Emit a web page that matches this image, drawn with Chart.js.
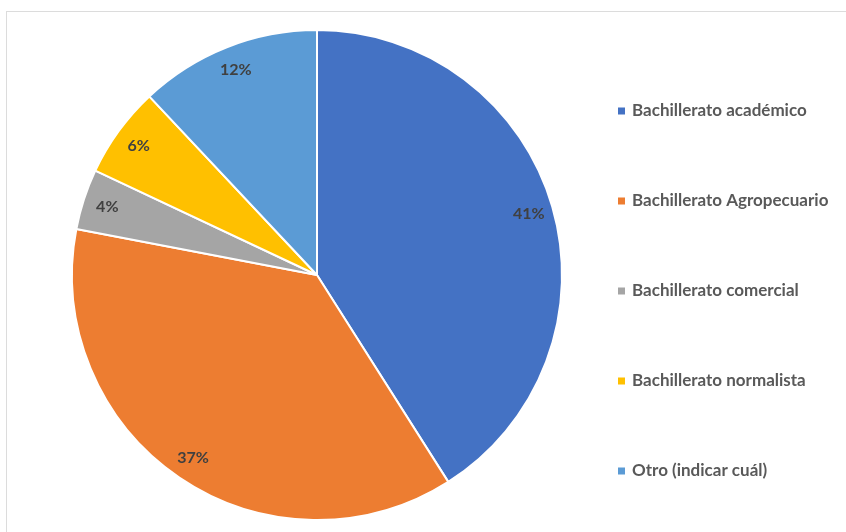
<!DOCTYPE html>
<html>
<head>
<meta charset="utf-8">
<script src="https://cdn.jsdelivr.net/npm/chart.js@4/dist/chart.umd.min.js"></script>
<style>
  html, body { margin: 0; padding: 0; background: #ffffff; }
  #frame {
    position: absolute; left: 6px; top: 11px; width: 900px; height: 600px;
    border-top: 1px solid #dcdcdc; border-left: 1px solid #dcdcdc;
  }
  #wrap { position: absolute; left: 0; top: 0; width: 846px; height: 532px; }
</style>
</head>
<body>
<div id="frame"></div>
<div id="wrap"><canvas id="c" width="846" height="532"></canvas></div>
<script>
const categories = [
  'Bachillerato académico',
  'Bachillerato Agropecuario',
  'Bachillerato comercial',
  'Bachillerato normalista',
  'Otro (indicar cuál)'
];
const shares = [41, 37, 4, 6, 12];
const sliceColors = ['#4472C4', '#ED7D31', '#A5A5A5', '#FFC000', '#5B9BD5'];

const FONT = 'Lato, "Open Sans", "Liberation Sans", sans-serif';

// Percentage text inside each slice, near the rim
const sliceLabels = {
  id: 'sliceLabels',
  afterDatasetsDraw(chart) {
    const ctx = chart.ctx;
    const meta = chart.getDatasetMeta(0);
    ctx.save();
    ctx.font = 'bold 16px ' + FONT;
    ctx.fillStyle = '#404040';
    ctx.textAlign = 'center';
    ctx.textBaseline = 'middle';
    meta.data.forEach((arc, i) => {
      const p = arc.getProps(['x', 'y', 'startAngle', 'endAngle', 'outerRadius'], true);
      const mid = (p.startAngle + p.endAngle) / 2;
      const r = p.outerRadius * 0.9;
      ctx.fillText(shares[i] + '%', p.x + Math.cos(mid) * r, p.y + Math.sin(mid) * r);
    });
    ctx.restore();
  }
};

// Legend column on the right with small square markers
const sideLegend = {
  id: 'sideLegend',
  afterDraw(chart) {
    const ctx = chart.ctx;
    ctx.save();
    ctx.font = 'bold 17px ' + FONT;
    ctx.textBaseline = 'middle';
    ctx.textAlign = 'left';
    chart.data.labels.forEach((lab, i) => {
      const y = 111 + i * 90;
      ctx.fillStyle = chart.data.datasets[0].backgroundColor[i];
      ctx.fillRect(618, y - 3.5, 7, 7);
      ctx.fillStyle = '#595959';
      ctx.fillText(lab, 632, y);
    });
    ctx.restore();
  }
};

new Chart(document.getElementById('c'), {
  type: 'pie',
  data: {
    labels: categories,
    datasets: [{
      data: shares,
      backgroundColor: sliceColors,
      borderColor: '#ffffff',
      borderWidth: 2
    }]
  },
  options: {
    responsive: false,
    animation: false,
    layout: { padding: { left: 71, right: 283, top: 29, bottom: 11 } },
    plugins: {
      legend: { display: false },
      tooltip: { enabled: false }
    }
  },
  plugins: [sliceLabels, sideLegend]
});
</script>
</body>
</html>
